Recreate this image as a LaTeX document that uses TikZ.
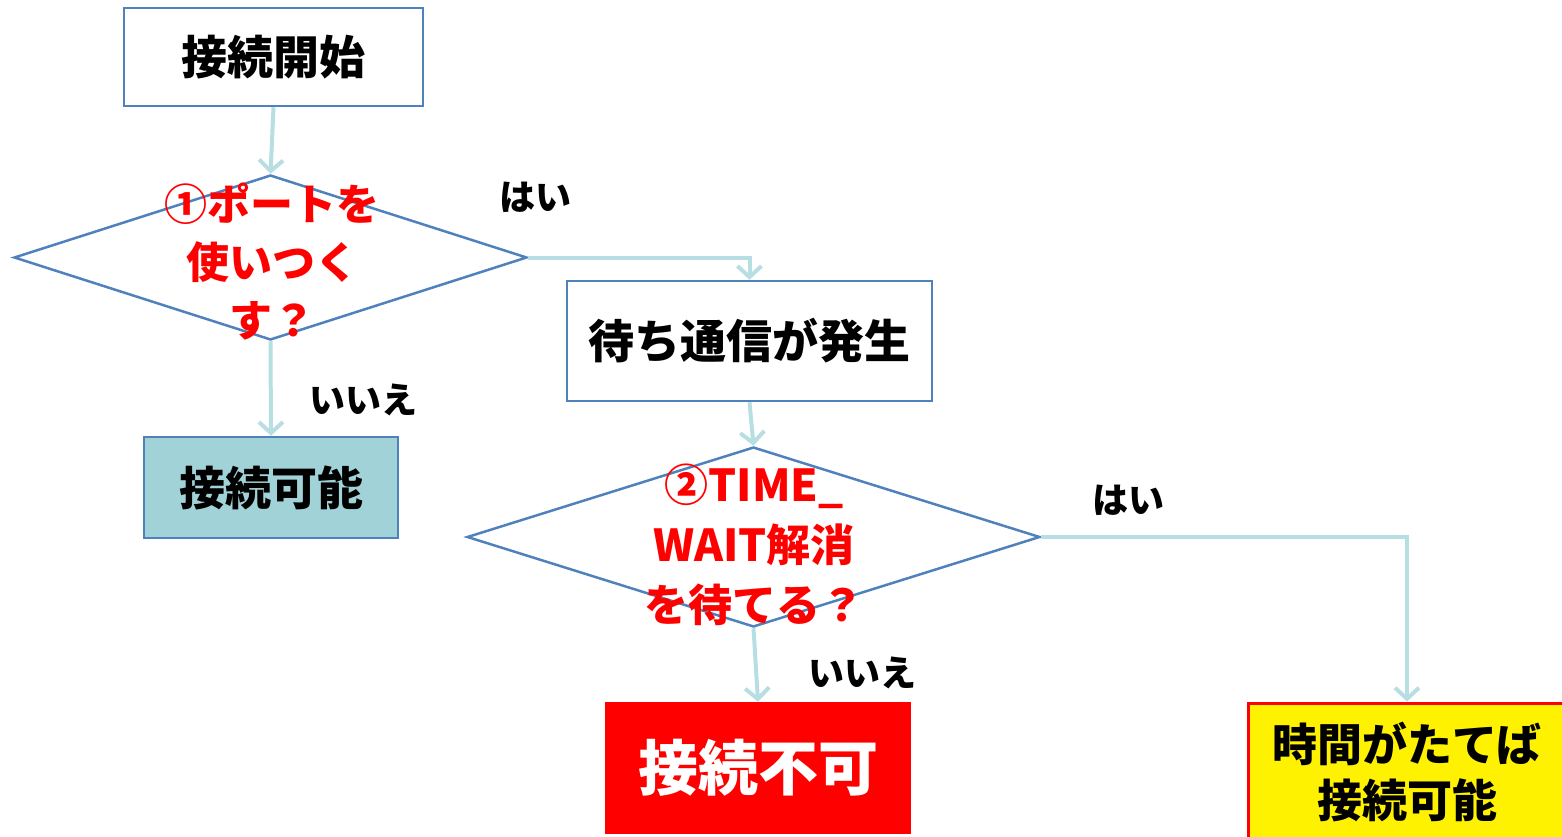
\documentclass[tikz,border=0pt]{standalone}
\usepackage{fontspec}
\setmainfont{Noto Sans CJK JP}
\usetikzlibrary{shapes.geometric,arrows.meta}
\definecolor{bordblue}{RGB}{79,129,189}
\definecolor{arrblue}{RGB}{183,222,226}
\definecolor{tealfill}{RGB}{160,210,216}
\tikzset{
  box/.style={draw=bordblue,line width=2.5pt,fill=white,inner sep=0pt,font=\bfseries\fontsize{46}{56}\selectfont,align=center},
  dia/.style={diamond,draw=bordblue,line width=2.5pt,inner sep=0pt},
  qtext/.style={text=red,font=\bfseries\fontsize{43}{58}\selectfont,align=center,inner sep=0pt},
  lbl/.style={font=\bfseries\fontsize{36}{40}\selectfont,inner sep=0pt},
  arr/.style={draw=arrblue,line width=4pt,-{Straight Barb[length=11pt,width=24pt,line width=4pt]}}
}
\begin{document}
\begin{tikzpicture}[x=1pt,y=-1pt]
\useasboundingbox (0,0) rectangle (1562,837);
\clip (0,0) rectangle (1562,837);
% boxes
\node[box,minimum width=299pt,minimum height=98pt] (start) at (273.5,57) {接続開始};
\node[box,minimum width=365pt,minimum height=120pt] (wait) at (749.5,341) {待ち通信が発生};
\node[box,fill=tealfill,minimum width=254pt,minimum height=101pt] (ok) at (271,487.5) {接続可能};
\node[box,draw=red,fill=red,text=white,font=\bfseries\fontsize{60}{70}\selectfont,minimum width=304pt,minimum height=130pt] (ng) at (758,768) {接続不可};
\node[box,draw=red,line width=3pt,fill=yellow,minimum width=318pt,minimum height=137pt,font=\bfseries\fontsize{45}{56}\selectfont] (later) at (1407,771.5) {時間がたてば\\接続可能};
% diamonds
\node[dia,minimum width=513pt,minimum height=165pt] (d1) at (270.5,257.5) {};
\node[dia,minimum width=573pt,minimum height=180pt] (d2) at (753.5,537) {};
% question texts
\node[qtext] (d1t) at (272,262) {①ポートを\\使いつく\\す？};
\node[qtext,font=\bfseries\fontsize{44}{60}\selectfont] (d2t) at (754,545) {②TIME\_\\WAIT解消\\を待てる？};
% labels
\node[lbl] (y1) at (535,197) {はい};
\node[lbl] (n1) at (363,400) {いいえ};
\node[lbl] (y2) at (1128,500) {はい};
\node[lbl] (n2) at (862,673) {いいえ};
% connectors
\draw[arr] (start.south) -- (d1.north);
\draw[arr] (d1.east) -| (wait.north);
\draw[arr] (d1.south) -- (ok.north);
\draw[arr] (wait.south) -- (d2.north);
\draw[arr] (d2.east) -| (later.north);
\draw[arr] (d2.south) -- (ng.north);
\end{tikzpicture}
\end{document}
